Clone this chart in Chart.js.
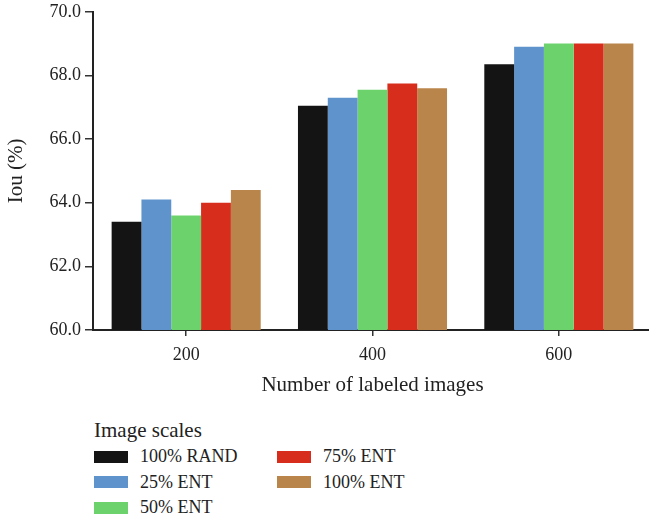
<!DOCTYPE html>
<html>
<head>
<meta charset="utf-8">
<script src="https://cdn.jsdelivr.net/npm/chart.js@4"></script>
<style>
  body { margin: 0; overflow: hidden; background: #fff; font-family: "Liberation Serif", serif; }
  #wrap { position: relative; width: 653px; height: 405px; margin-top: -3px; }
  #legend { position: absolute; left: 94px; top: 418px; color: #222; font-size: 18px; }
  #legend .title { margin-bottom: 1px; font-size: 21px; }
  #legend .grid { display: grid; grid-template-rows: repeat(3, 25.5px); grid-auto-flow: column; grid-template-columns: 183px 160px; }
  #legend .item { display: flex; align-items: center; }
  #legend .sw { width: 34px; height: 12px; margin-right: 12px; }
</style>
</head>
<body>
<div id="wrap"><canvas id="chart"></canvas></div>
<div id="legend"><div class="title">Image scales</div><div class="grid" id="items"></div></div>
<script>
// Data
const labels = ["200", "400", "600"];
const seriesNames = ["100% RAND", "25% ENT", "50% ENT", "75% ENT", "100% ENT"];
const rand100 = [63.4, 67.05, 68.35];
const ent25 = [64.1, 67.3, 68.9];
const ent50 = [63.6, 67.55, 69.0];
const ent75 = [64.0, 67.75, 69.0];
const ent100 = [64.4, 67.6, 69.0];
const colors = ["#141414", "#5f93cc", "#6cd36c", "#d62d1c", "#ba854a"];

const values = [rand100, ent25, ent50, ent75, ent100];
const font = { family: "Liberation Serif", size: 18 };
const titleFont = { family: "Liberation Serif", size: 21 };

new Chart(document.getElementById("chart"), {
    type: "bar",
    data: {
        labels: labels,
        datasets: values.map((v, i) => ({
            label: seriesNames[i],
            data: v,
            backgroundColor: colors[i],
            barPercentage: 1.0,
            categoryPercentage: 0.8
        }))
    },
    options: {
        responsive: true,
        maintainAspectRatio: false,
        animation: false,
        layout: { padding: { top: 1, right: 1, left: 0, bottom: 0 } },
        plugins: { legend: { display: false }, tooltip: { enabled: false } },
        scales: {
            x: {
                grid: { display: true, drawOnChartArea: false, offset: false, color: "#333", tickLength: 6, lineWidth: 1.5 },
                border: { color: "#222", width: 2 },
                ticks: { color: "#222", font: font, padding: 8 },
                title: { display: true, text: "Number of labeled images", color: "#222", font: titleFont, padding: { top: 7 } },
                afterFit: s => { s.height = 72; }
            },
            y: {
                min: 60,
                max: 70,
                grid: { display: true, drawOnChartArea: false, color: "#333", tickLength: 8, lineWidth: 1.5 },
                border: { color: "#222", width: 2 },
                ticks: { stepSize: 2, color: "#222", font: font, padding: 4, callback: v => v.toFixed(1) },
                title: { display: true, text: "Iou (%)", color: "#222", font: titleFont, padding: { bottom: 0 } },
                afterFit: s => { s.width = 93; }
            }
        }
    }
});

// HTML legend in two columns, column-major like the reference
const items = document.getElementById("items");
seriesNames.forEach((name, i) => {
    const d = document.createElement("div");
    d.className = "item";
    d.innerHTML = '<span class="sw" style="background:' + colors[i] + '"></span>' + name;
    items.appendChild(d);
});
</script>
</body>
</html>
